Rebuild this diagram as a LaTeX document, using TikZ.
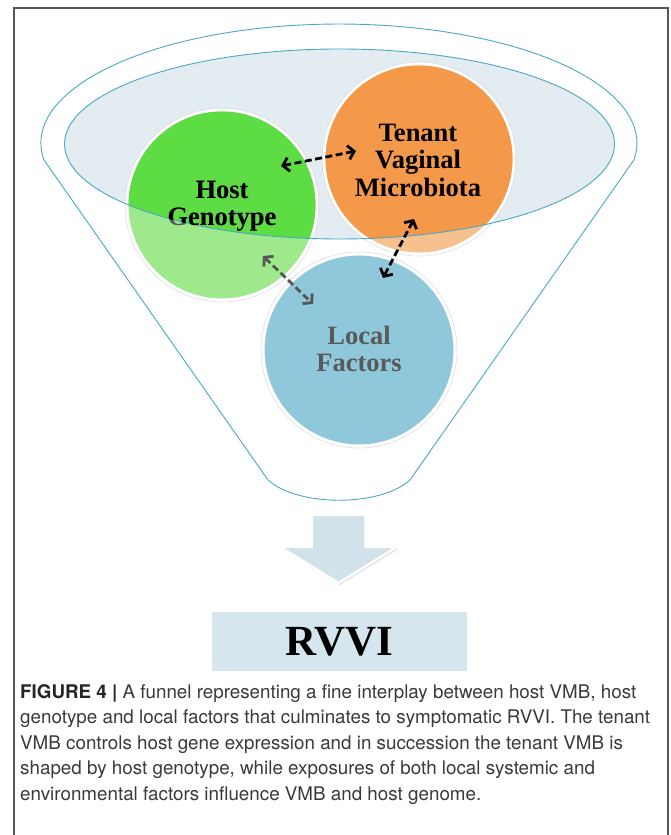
\documentclass[tikz,border=0pt]{standalone}
\usepackage{fontspec}
\setmainfont{Liberation Serif}
\newfontfamily\capfont{TeX Gyre Heros}
\usetikzlibrary{arrows.meta}
\definecolor{funnelc}{HTML}{4BA8C4}
\definecolor{ellfill}{HTML}{E2ECF1}
\definecolor{greenF}{HTML}{5EDC44}
\definecolor{greenL}{HTML}{9DE98B}
\definecolor{orangeF}{HTML}{F4984A}
\definecolor{orangeL}{HTML}{F7C08F}
\definecolor{localB}{HTML}{8FC8DB}
\definecolor{arrowfill}{HTML}{D2E2EB}
\definecolor{boxfill}{HTML}{D6E6EE}
\definecolor{framec}{HTML}{555555}
\definecolor{graytext}{HTML}{595959}
\definecolor{captext}{HTML}{3A3A3A}
\tikzset{
  circ/.style={circle, minimum size=190pt, inner sep=0pt, draw=white, line width=3pt},
  lbl/.style={align=center, font=\fontsize{26.5}{27.5}\selectfont\bfseries},
  dasharrow/.style={line width=2.8pt, dash pattern=on 7pt off 3.5pt,
     {Straight Barb[length=6pt,width=14pt]}-{Straight Barb[length=6pt,width=14pt]}},
  capline/.style={anchor=base west, inner sep=0pt, text=captext,
     font=\capfont\fontsize{18.8}{25.5}\selectfont}
}
\begin{document}
\begin{tikzpicture}[x=1pt,y=1pt]
\useasboundingbox (0,0) rectangle (670,835);
\fill[white] (0,0) rectangle (670,835);
\draw[framec, line width=1.2pt] (14,-10) rectangle (668,827);

% funnel body
\draw[funnelc, line width=0.9pt, fill=white]
  (44,675) arc[start angle=188.2, end angle=-8.2, x radius=298, y radius=119]
  -- (410,355) .. controls (380,328) and (298,328) .. (268,355) -- cycle;

% inner ellipse fill
\fill[ellfill] (339.5,691) ellipse[x radius=275, y radius=95];

% circles
\node[circ, fill=greenL] (host) at (222,630) {};
\node[circ, fill=orangeL] (tenant) at (419,676) {};
\node[circ, fill=localB, minimum size=192pt] (local) at (359,485) {};
\draw[gray!25, line width=0.6pt] (host) circle[radius=97];
\draw[gray!25, line width=0.6pt] (tenant) circle[radius=97];
\draw[gray!25, line width=0.6pt] (local) circle[radius=98];

\begin{scope}
  \clip (339.5,691) ellipse[x radius=275, y radius=95];
  \fill[greenF] (host) circle[radius=93.5];
  \fill[orangeF] (tenant) circle[radius=93.5];
\end{scope}

% inner ellipse outline
\draw[funnelc, line width=0.9pt] (339.5,691) ellipse[x radius=275, y radius=95];

% labels
\node[lbl, text=graytext] (hostgray) at (222,629) {Host\\Genotype};
\begin{scope}
  \clip (339.5,691) ellipse[x radius=275, y radius=95];
  \node[lbl, text=black] (hosttext) at (222,629) {Host\\Genotype};
\end{scope}
\node[lbl, text=black] (tenanttext) at (418,675) {Tenant\\Vaginal\\Microbiota};
\node[lbl, text=graytext] (localtext) at (359,486) {Local\\Factors};

% interaction arrows
\coordinate (ho) at (281,669);
\coordinate (oh) at (356,684);
\coordinate (ol) at (414,616);
\coordinate (lo) at (383,557);
\coordinate (hl) at (263,579);
\coordinate (lh) at (313,531);
\draw[dasharrow, black] (ho) -- (oh);
\draw[dasharrow, black] (ol) -- (lo);
\draw[dasharrow, framec] (hl) -- (lh);

% big down arrow
\node[inner sep=0pt] (tip) at (338.5,252) {};
\fill[gray!30] (312.5,318) -- (366.5,318) -- (366.5,286) -- (398,286) -- (339.5,250) -- (281,286) -- (312.5,286) -- cycle;
\draw[white, line width=2.5pt, fill=arrowfill, line join=miter]
  (311.5,320) -- (365.5,320) -- (365.5,288) -- (397,288) -- (tip.center) -- (280,288) -- (311.5,288) -- cycle;

% result box
\node[fill=boxfill, minimum width=255pt, minimum height=59pt, inner sep=0pt,
      font=\fontsize{43}{45}\selectfont\bfseries] (rvvi) at (339.5,193.5) {RVVI};

% caption
\node[capline] (c1) at (20,136) {{\bfseries\color{black!85}FIGURE 4 |} A funnel representing a fine interplay between host VMB, host};
\node[capline] (c2) at (20,111) {genotype and local factors that culminates to symptomatic RVVI. The tenant};
\node[capline] (c3) at (20,85) {VMB controls host gene expression and in succession the tenant VMB is};
\node[capline] (c4) at (20,60) {shaped by host genotype, while exposures of both local systemic and};
\node[capline] (c5) at (20,34) {environmental factors influence VMB and host genome.};
\end{tikzpicture}
\end{document}
